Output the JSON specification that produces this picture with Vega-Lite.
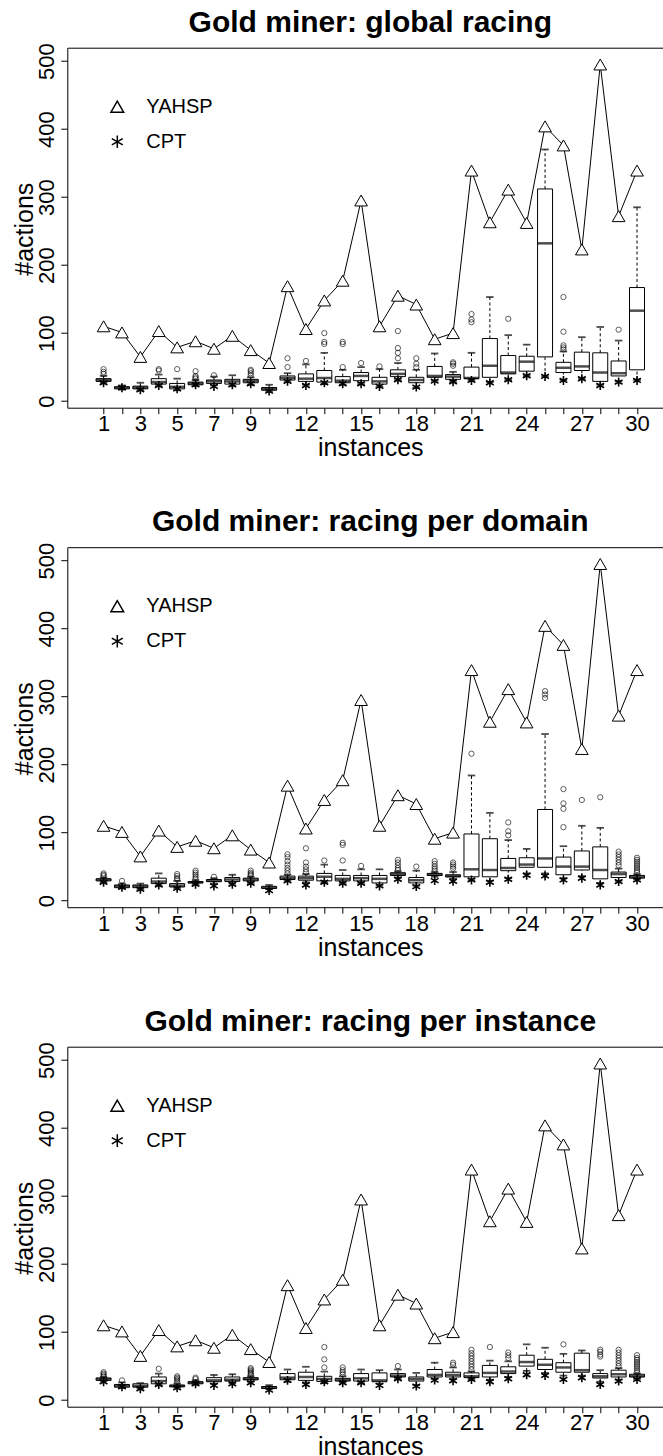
{
  "$schema": "https://vega.github.io/schema/vega-lite/v6.json",
  "autosize": {"type": "none"},
  "padding": {"left": 67.3, "top": 47.7, "right": 595.7, "bottom": 1408.3},
  "background": "white",
  "spacing": 139.5,
  "bounds": "flush",
  "config": {
    "font": "Liberation Sans",
    "view": {"stroke": "black", "strokeWidth": 1},
    "axis": {"labelFont": "Liberation Sans", "labelFontSize": 22, "labelColor": "black", "tickColor": "black", "tickWidth": 1, "titleFont": "Liberation Sans", "titleFontSize": 25, "titleFontWeight": "normal", "titleColor": "black", "grid": false, "domain": false},
    "title": {"font": "Liberation Sans", "fontSize": 30, "fontWeight": "bold", "color": "black", "anchor": "middle", "frame": "group", "offset": 5, "baseline": "alphabetic"}
  },
  "resolve": {"scale": {"shape": "independent"}, "legend": {"shape": "independent"}},
  "datasets": {
    "yahsp": [
      {"inst":1,"v":110},{"inst":2,"v":101},{"inst":3,"v":65},{"inst":4,"v":103},{"inst":5,"v":79},{"inst":6,"v":88},{"inst":7,"v":77},{"inst":8,"v":96},{"inst":9,"v":75},{"inst":10,"v":56},
      {"inst":11,"v":169},{"inst":12,"v":106},{"inst":13,"v":148},{"inst":14,"v":177},{"inst":15,"v":295},{"inst":16,"v":110},{"inst":17,"v":155},{"inst":18,"v":142},{"inst":19,"v":91},{"inst":20,"v":100},
      {"inst":21,"v":339},{"inst":22,"v":263},{"inst":23,"v":311},{"inst":24,"v":262},{"inst":25,"v":404},{"inst":26,"v":376},{"inst":27,"v":223},{"inst":28,"v":495},{"inst":29,"v":272},{"inst":30,"v":339}
    ],
    "cpt": [
      {"inst":1,"v":27},{"inst":2,"v":19.7},{"inst":3,"v":16.7},{"inst":4,"v":23},{"inst":5,"v":18},{"inst":6,"v":24},{"inst":7,"v":21.6},{"inst":8,"v":24},{"inst":9,"v":25.5},{"inst":10,"v":14.7},
      {"inst":11,"v":29},{"inst":12,"v":23},{"inst":13,"v":27},{"inst":14,"v":25.5},{"inst":15,"v":25.5},{"inst":16,"v":21.6},{"inst":17,"v":31.4},{"inst":18,"v":20.6},{"inst":19,"v":29.4},{"inst":20,"v":28.4},
      {"inst":21,"v":30.4},{"inst":22,"v":27},{"inst":23,"v":31.4},{"inst":24,"v":37.3},{"inst":25,"v":36.3},{"inst":26,"v":30.4},{"inst":27,"v":32.9},{"inst":28,"v":23},{"inst":29,"v":28},{"inst":30,"v":30.4}
    ],
    "boxes": [
      {"panel":1,"inst":1,"lo":27,"q1":29,"med":31,"q3":33,"hi":37},
      {"panel":1,"inst":2,"lo":17,"q1":18,"med":20,"q3":21,"hi":23},
      {"panel":1,"inst":3,"lo":16,"q1":18,"med":20,"q3":22,"hi":27},
      {"panel":1,"inst":4,"lo":22,"q1":25,"med":28,"q3":33,"hi":39},
      {"panel":1,"inst":5,"lo":16,"q1":18,"med":21,"q3":26,"hi":33},
      {"panel":1,"inst":6,"lo":22,"q1":24,"med":26,"q3":28,"hi":31},
      {"panel":1,"inst":7,"lo":23,"q1":26,"med":29,"q3":31,"hi":36},
      {"panel":1,"inst":8,"lo":22,"q1":25,"med":29,"q3":32,"hi":38},
      {"panel":1,"inst":9,"lo":24,"q1":27,"med":30,"q3":32,"hi":35},
      {"panel":1,"inst":10,"lo":14,"q1":16,"med":18,"q3":20,"hi":24},
      {"panel":1,"inst":11,"lo":28,"q1":31,"med":34,"q3":37,"hi":41},
      {"panel":1,"inst":12,"lo":24,"q1":29,"med":33,"q3":40,"hi":54},
      {"panel":1,"inst":13,"lo":25,"q1":28,"med":34,"q3":45,"hi":71},
      {"panel":1,"inst":14,"lo":24,"q1":27,"med":30,"q3":36,"hi":46},
      {"panel":1,"inst":15,"lo":25,"q1":30,"med":37,"q3":42,"hi":50},
      {"panel":1,"inst":16,"lo":21,"q1":25,"med":29,"q3":35,"hi":47},
      {"panel":1,"inst":17,"lo":31,"q1":36,"med":40,"q3":46,"hi":56},
      {"panel":1,"inst":18,"lo":20,"q1":27,"med":31,"q3":35,"hi":46},
      {"panel":1,"inst":19,"lo":30,"q1":35,"med":37,"q3":51,"hi":70},
      {"panel":1,"inst":20,"lo":28,"q1":32,"med":36,"q3":39,"hi":43},
      {"panel":1,"inst":21,"lo":30,"q1":33,"med":34,"q3":50,"hi":71},
      {"panel":1,"inst":22,"lo":28,"q1":35,"med":52,"q3":92,"hi":153},
      {"panel":1,"inst":23,"lo":31,"q1":40,"med":42,"q3":67,"hi":97},
      {"panel":1,"inst":24,"lo":37,"q1":44,"med":58,"q3":66,"hi":83},
      {"panel":1,"inst":25,"lo":36,"q1":65,"med":232,"q3":312,"hi":370},
      {"panel":1,"inst":26,"lo":31,"q1":42,"med":49,"q3":57,"hi":73},
      {"panel":1,"inst":27,"lo":33,"q1":45,"med":51,"q3":72,"hi":94},
      {"panel":1,"inst":28,"lo":24,"q1":29,"med":42,"q3":71,"hi":109},
      {"panel":1,"inst":29,"lo":29,"q1":37,"med":41,"q3":59,"hi":89},
      {"panel":1,"inst":30,"lo":31,"q1":46,"med":133,"q3":167,"hi":285},
      {"panel":2,"inst":1,"lo":27,"q1":29,"med":31,"q3":32,"hi":34},
      {"panel":2,"inst":2,"lo":18,"q1":19,"med":21,"q3":23,"hi":25},
      {"panel":2,"inst":3,"lo":17,"q1":19,"med":21,"q3":23,"hi":25},
      {"panel":2,"inst":4,"lo":22,"q1":25,"med":28,"q3":33,"hi":40},
      {"panel":2,"inst":5,"lo":18,"q1":20,"med":22,"q3":25,"hi":29},
      {"panel":2,"inst":6,"lo":24,"q1":26,"med":27,"q3":28,"hi":30},
      {"panel":2,"inst":7,"lo":25,"q1":28,"med":29,"q3":31,"hi":33},
      {"panel":2,"inst":8,"lo":25,"q1":28,"med":31,"q3":34,"hi":38},
      {"panel":2,"inst":9,"lo":26,"q1":29,"med":31,"q3":33,"hi":35},
      {"panel":2,"inst":10,"lo":17,"q1":18,"med":19,"q3":21,"hi":23},
      {"panel":2,"inst":11,"lo":29,"q1":31,"med":33,"q3":36,"hi":38},
      {"panel":2,"inst":12,"lo":27,"q1":30,"med":33,"q3":36,"hi":39},
      {"panel":2,"inst":13,"lo":26,"q1":29,"med":35,"q3":40,"hi":53},
      {"panel":2,"inst":14,"lo":26,"q1":29,"med":32,"q3":37,"hi":45},
      {"panel":2,"inst":15,"lo":26,"q1":29,"med":33,"q3":37,"hi":46},
      {"panel":2,"inst":16,"lo":22,"q1":26,"med":32,"q3":37,"hi":46},
      {"panel":2,"inst":17,"lo":34,"q1":37,"med":39,"q3":41,"hi":43},
      {"panel":2,"inst":18,"lo":22,"q1":26,"med":30,"q3":34,"hi":44},
      {"panel":2,"inst":19,"lo":35,"q1":37,"med":38,"q3":40,"hi":42},
      {"panel":2,"inst":20,"lo":32,"q1":35,"med":36,"q3":38,"hi":42},
      {"panel":2,"inst":21,"lo":30,"q1":35,"med":46,"q3":98,"hi":184},
      {"panel":2,"inst":22,"lo":29,"q1":35,"med":45,"q3":91,"hi":129},
      {"panel":2,"inst":23,"lo":33,"q1":44,"med":48,"q3":62,"hi":89},
      {"panel":2,"inst":24,"lo":40,"q1":49,"med":53,"q3":63,"hi":76},
      {"panel":2,"inst":25,"lo":40,"q1":49,"med":62,"q3":134,"hi":245},
      {"panel":2,"inst":26,"lo":33,"q1":38,"med":50,"q3":64,"hi":80},
      {"panel":2,"inst":27,"lo":36,"q1":45,"med":50,"q3":73,"hi":110},
      {"panel":2,"inst":28,"lo":26,"q1":32,"med":45,"q3":79,"hi":107},
      {"panel":2,"inst":29,"lo":29,"q1":34,"med":39,"q3":42,"hi":47},
      {"panel":2,"inst":30,"lo":31,"q1":33,"med":35,"q3":37,"hi":39},
      {"panel":3,"inst":1,"lo":28,"q1":29,"med":31,"q3":32.5,"hi":34},
      {"panel":3,"inst":2,"lo":18,"q1":19,"med":21,"q3":23,"hi":26},
      {"panel":3,"inst":3,"lo":17,"q1":19,"med":21,"q3":24,"hi":25},
      {"panel":3,"inst":4,"lo":22,"q1":24,"med":28,"q3":34,"hi":39},
      {"panel":3,"inst":5,"lo":18,"q1":19.5,"med":21,"q3":22,"hi":24},
      {"panel":3,"inst":6,"lo":23,"q1":24,"med":26,"q3":27,"hi":29},
      {"panel":3,"inst":7,"lo":24,"q1":27,"med":29,"q3":33,"hi":37},
      {"panel":3,"inst":8,"lo":25,"q1":28,"med":30,"q3":34,"hi":38},
      {"panel":3,"inst":9,"lo":27,"q1":30,"med":31,"q3":33,"hi":35},
      {"panel":3,"inst":10,"lo":16,"q1":17,"med":18.5,"q3":20,"hi":22},
      {"panel":3,"inst":11,"lo":27,"q1":30,"med":33,"q3":39,"hi":45},
      {"panel":3,"inst":12,"lo":26,"q1":29,"med":34,"q3":41,"hi":49},
      {"panel":3,"inst":13,"lo":25,"q1":27.5,"med":31,"q3":35,"hi":42},
      {"panel":3,"inst":14,"lo":26,"q1":28,"med":30,"q3":32,"hi":35},
      {"panel":3,"inst":15,"lo":25,"q1":28,"med":32,"q3":39,"hi":45},
      {"panel":3,"inst":16,"lo":24,"q1":27,"med":29,"q3":40,"hi":44},
      {"panel":3,"inst":17,"lo":31,"q1":34,"med":36,"q3":39,"hi":45},
      {"panel":3,"inst":18,"lo":22,"q1":28,"med":31,"q3":34,"hi":40},
      {"panel":3,"inst":19,"lo":31,"q1":34,"med":37,"q3":45,"hi":55},
      {"panel":3,"inst":20,"lo":31,"q1":34,"med":37,"q3":41,"hi":48},
      {"panel":3,"inst":21,"lo":30,"q1":33,"med":35,"q3":40,"hi":42},
      {"panel":3,"inst":22,"lo":30,"q1":34,"med":40,"q3":51,"hi":58},
      {"panel":3,"inst":23,"lo":34,"q1":39,"med":42,"q3":49,"hi":57},
      {"panel":3,"inst":24,"lo":43,"q1":50,"med":56,"q3":66,"hi":82},
      {"panel":3,"inst":25,"lo":40,"q1":45,"med":52,"q3":60,"hi":77},
      {"panel":3,"inst":26,"lo":36,"q1":41,"med":48,"q3":55,"hi":68},
      {"panel":3,"inst":27,"lo":36,"q1":41,"med":44,"q3":69,"hi":73},
      {"panel":3,"inst":28,"lo":27,"q1":32.5,"med":35,"q3":39,"hi":44},
      {"panel":3,"inst":29,"lo":30,"q1":34,"med":38,"q3":44,"hi":47},
      {"panel":3,"inst":30,"lo":31,"q1":34,"med":35.5,"q3":38,"hi":39}
    ],
    "outliers": [
      {"panel":1,"inst":1,"v":40},{"panel":1,"inst":1,"v":43},{"panel":1,"inst":1,"v":47},
      {"panel":1,"inst":4,"v":45},{"panel":1,"inst":4,"v":47},
      {"panel":1,"inst":5,"v":47},
      {"panel":1,"inst":6,"v":33},{"panel":1,"inst":6,"v":35},{"panel":1,"inst":6,"v":37},{"panel":1,"inst":6,"v":44},
      {"panel":1,"inst":7,"v":38},
      {"panel":1,"inst":9,"v":38},{"panel":1,"inst":9,"v":41},{"panel":1,"inst":9,"v":44},{"panel":1,"inst":9,"v":46},
      {"panel":1,"inst":11,"v":50},{"panel":1,"inst":11,"v":63},
      {"panel":1,"inst":12,"v":59},
      {"panel":1,"inst":13,"v":84},{"panel":1,"inst":13,"v":87},{"panel":1,"inst":13,"v":100},
      {"panel":1,"inst":14,"v":50},{"panel":1,"inst":14,"v":84},{"panel":1,"inst":14,"v":87},
      {"panel":1,"inst":15,"v":56},
      {"panel":1,"inst":16,"v":51},
      {"panel":1,"inst":17,"v":63},{"panel":1,"inst":17,"v":71},{"panel":1,"inst":17,"v":78},{"panel":1,"inst":17,"v":103},
      {"panel":1,"inst":18,"v":50},{"panel":1,"inst":18,"v":55},{"panel":1,"inst":18,"v":63},
      {"panel":1,"inst":20,"v":52},{"panel":1,"inst":20,"v":55},{"panel":1,"inst":20,"v":57},
      {"panel":1,"inst":21,"v":116},{"panel":1,"inst":21,"v":120},{"panel":1,"inst":21,"v":128},
      {"panel":1,"inst":23,"v":121},
      {"panel":1,"inst":26,"v":76},{"panel":1,"inst":26,"v":79},{"panel":1,"inst":26,"v":82},{"panel":1,"inst":26,"v":102},{"panel":1,"inst":26,"v":153},
      {"panel":1,"inst":29,"v":105},
      {"panel":2,"inst":1,"v":36},{"panel":2,"inst":1,"v":38},{"panel":2,"inst":1,"v":40},
      {"panel":2,"inst":2,"v":29},
      {"panel":2,"inst":5,"v":31},{"panel":2,"inst":5,"v":33},{"panel":2,"inst":5,"v":36},{"panel":2,"inst":5,"v":39},
      {"panel":2,"inst":6,"v":32},{"panel":2,"inst":6,"v":35},{"panel":2,"inst":6,"v":38},{"panel":2,"inst":6,"v":41},{"panel":2,"inst":6,"v":44},
      {"panel":2,"inst":7,"v":35},
      {"panel":2,"inst":9,"v":37},{"panel":2,"inst":9,"v":39},{"panel":2,"inst":9,"v":41},{"panel":2,"inst":9,"v":44},
      {"panel":2,"inst":11,"v":40},{"panel":2,"inst":11,"v":44},{"panel":2,"inst":11,"v":48},{"panel":2,"inst":11,"v":53},{"panel":2,"inst":11,"v":58},{"panel":2,"inst":11,"v":64},{"panel":2,"inst":11,"v":68},
      {"panel":2,"inst":12,"v":42},{"panel":2,"inst":12,"v":46},{"panel":2,"inst":12,"v":50},{"panel":2,"inst":12,"v":56},{"panel":2,"inst":12,"v":77},
      {"panel":2,"inst":13,"v":59},
      {"panel":2,"inst":14,"v":59},{"panel":2,"inst":14,"v":82},{"panel":2,"inst":14,"v":85},
      {"panel":2,"inst":15,"v":51},
      {"panel":2,"inst":17,"v":45},{"panel":2,"inst":17,"v":48},{"panel":2,"inst":17,"v":52},{"panel":2,"inst":17,"v":56},{"panel":2,"inst":17,"v":60},
      {"panel":2,"inst":18,"v":50},
      {"panel":2,"inst":19,"v":44},{"panel":2,"inst":19,"v":47},{"panel":2,"inst":19,"v":50},{"panel":2,"inst":19,"v":54},{"panel":2,"inst":19,"v":58},
      {"panel":2,"inst":20,"v":47},{"panel":2,"inst":20,"v":50},{"panel":2,"inst":20,"v":53},{"panel":2,"inst":20,"v":56},
      {"panel":2,"inst":21,"v":216},
      {"panel":2,"inst":23,"v":96},{"panel":2,"inst":23,"v":102},{"panel":2,"inst":23,"v":115},
      {"panel":2,"inst":25,"v":298},{"panel":2,"inst":25,"v":303},{"panel":2,"inst":25,"v":308},
      {"panel":2,"inst":26,"v":108},{"panel":2,"inst":26,"v":135},{"panel":2,"inst":26,"v":143},{"panel":2,"inst":26,"v":164},
      {"panel":2,"inst":27,"v":148},
      {"panel":2,"inst":28,"v":152},
      {"panel":2,"inst":29,"v":52},{"panel":2,"inst":29,"v":56},{"panel":2,"inst":29,"v":60},{"panel":2,"inst":29,"v":64},{"panel":2,"inst":29,"v":68},{"panel":2,"inst":29,"v":72},
      {"panel":2,"inst":30,"v":42},{"panel":2,"inst":30,"v":45},{"panel":2,"inst":30,"v":48},{"panel":2,"inst":30,"v":51},{"panel":2,"inst":30,"v":54},{"panel":2,"inst":30,"v":57},{"panel":2,"inst":30,"v":60},{"panel":2,"inst":30,"v":63},
      {"panel":3,"inst":1,"v":35},{"panel":3,"inst":1,"v":37},{"panel":3,"inst":1,"v":39},{"panel":3,"inst":1,"v":41},
      {"panel":3,"inst":2,"v":29},
      {"panel":3,"inst":4,"v":46},
      {"panel":3,"inst":5,"v":26},{"panel":3,"inst":5,"v":29},{"panel":3,"inst":5,"v":31},{"panel":3,"inst":5,"v":33},{"panel":3,"inst":5,"v":35},
      {"panel":3,"inst":6,"v":31},{"panel":3,"inst":6,"v":33},
      {"panel":3,"inst":9,"v":37},{"panel":3,"inst":9,"v":39},{"panel":3,"inst":9,"v":41},{"panel":3,"inst":9,"v":43},{"panel":3,"inst":9,"v":45},{"panel":3,"inst":9,"v":47},
      {"panel":3,"inst":13,"v":48},{"panel":3,"inst":13,"v":60},{"panel":3,"inst":13,"v":78},
      {"panel":3,"inst":14,"v":38},{"panel":3,"inst":14,"v":41},{"panel":3,"inst":14,"v":44},{"panel":3,"inst":14,"v":48},
      {"panel":3,"inst":17,"v":50},
      {"panel":3,"inst":20,"v":52},{"panel":3,"inst":20,"v":55},
      {"panel":3,"inst":21,"v":45},{"panel":3,"inst":21,"v":49},{"panel":3,"inst":21,"v":53},{"panel":3,"inst":21,"v":57},{"panel":3,"inst":21,"v":61},{"panel":3,"inst":21,"v":65},{"panel":3,"inst":21,"v":69},{"panel":3,"inst":21,"v":74},
      {"panel":3,"inst":22,"v":78},
      {"panel":3,"inst":23,"v":62},{"panel":3,"inst":23,"v":66},{"panel":3,"inst":23,"v":70},
      {"panel":3,"inst":26,"v":82},
      {"panel":3,"inst":28,"v":64},{"panel":3,"inst":28,"v":67},{"panel":3,"inst":28,"v":71},{"panel":3,"inst":28,"v":74},
      {"panel":3,"inst":29,"v":50},{"panel":3,"inst":29,"v":54},{"panel":3,"inst":29,"v":58},{"panel":3,"inst":29,"v":62},{"panel":3,"inst":29,"v":66},{"panel":3,"inst":29,"v":70},{"panel":3,"inst":29,"v":74},
      {"panel":3,"inst":30,"v":41},{"panel":3,"inst":30,"v":44},{"panel":3,"inst":30,"v":47},{"panel":3,"inst":30,"v":50},{"panel":3,"inst":30,"v":53},{"panel":3,"inst":30,"v":56},{"panel":3,"inst":30,"v":59},{"panel":3,"inst":30,"v":62},{"panel":3,"inst":30,"v":66}
    ]
  },
  "vconcat": [
    {
      "title": {"text": "Gold miner: global racing"},
      "width": 606, "height": 360,
      "encoding": {"x": {"field": "inst", "type": "quantitative", "scale": {"domain": [-0.7, 31.7], "nice": false, "zero": false}, "axis": {"values": [1,2,3,4,5,6,7,8,9,10,11,12,13,14,15,16,17,18,19,20,21,22,23,24,25,26,27,28,29,30], "labelExpr": "indexof([1,3,5,7,9,12,15,18,21,24,27,30], datum.value) >= 0 ? datum.label : ''", "labelFlush": false, "labelOverlap": false, "labelPadding": 0, "tickSize": 6, "title": "instances", "titleX": 303, "titleY": 48, "titleAlign": "center", "titleBaseline": "alphabetic"}}},
      "layer": [
        {"data": {"name": "boxes"}, "transform": [{"filter": "datum.panel == 1"}], "mark": {"type": "rule", "strokeDash": [3, 2.5], "color": "black", "strokeWidth": 1}, "encoding": {"y": {"field": "q3", "type": "quantitative", "scale": {"domain": [-9.7, 519.7], "nice": false, "zero": false}, "title": "#actions", "axis": {"values": [0,100,200,300,400,500], "labelAngle": 270, "labelAlign": "center", "labelBaseline": "alphabetic", "labelPadding": 7.5, "tickSize": 6.5, "titleX": -35, "titleY": 181, "titleAngle": 270, "titleAlign": "center", "titleBaseline": "alphabetic"}}, "y2": {"field": "hi"}}},
        {"data": {"name": "boxes"}, "transform": [{"filter": "datum.panel == 1"}], "mark": {"type": "rule", "strokeDash": [3, 2.5], "color": "black", "strokeWidth": 1}, "encoding": {"y": {"field": "lo", "type": "quantitative", "title": "#actions"}, "y2": {"field": "q1"}}},
        {"data": {"name": "boxes"}, "transform": [{"filter": "datum.panel == 1"}], "mark": {"type": "tick", "orient": "horizontal", "size": 7.5, "thickness": 1.8, "color": "black"}, "encoding": {"y": {"field": "hi", "type": "quantitative", "title": "#actions"}}},
        {"data": {"name": "boxes"}, "transform": [{"filter": "datum.panel == 1"}], "mark": {"type": "tick", "orient": "horizontal", "size": 7.5, "thickness": 1.8, "color": "black"}, "encoding": {"y": {"field": "lo", "type": "quantitative", "title": "#actions"}}},
        {"data": {"name": "boxes"}, "transform": [{"filter": "datum.panel == 1"}], "mark": {"type": "bar", "size": 15, "fill": "white", "stroke": "black", "strokeWidth": 1}, "encoding": {"y": {"field": "q1", "type": "quantitative", "title": "#actions"}, "y2": {"field": "q3"}}},
        {"data": {"name": "boxes"}, "transform": [{"filter": "datum.panel == 1"}], "mark": {"type": "tick", "orient": "horizontal", "size": 15, "thickness": 2.5, "color": "black"}, "encoding": {"y": {"field": "med", "type": "quantitative", "title": "#actions"}}},
        {"data": {"name": "outliers"}, "transform": [{"filter": "datum.panel == 1"}], "mark": {"type": "point", "shape": "circle", "filled": false, "size": 28, "stroke": "black", "strokeWidth": 0.9}, "encoding": {"y": {"field": "v", "type": "quantitative", "title": "#actions"}}},
        {"data": {"name": "yahsp"}, "mark": {"type": "line", "color": "black", "strokeWidth": 1}, "encoding": {"y": {"field": "v", "type": "quantitative", "title": "#actions"}}},
        {"data": {"name": "yahsp"}, "mark": {"type": "point", "filled": true, "fill": "white", "stroke": "black", "strokeWidth": 1, "size": 160, "opacity": 1}, "encoding": {"y": {"field": "v", "type": "quantitative", "title": "#actions"}, "shape": {"datum": "YAHSP", "type": "nominal", "scale": {"domain": ["YAHSP", "CPT"], "range": ["triangle-up", "M0,-1L0,1M-0.866,-0.5L0.866,0.5M-0.866,0.5L0.866,-0.5"]}, "legend": {"title": null, "orient": "none", "legendX": 40, "legendY": 49, "direction": "vertical", "labelFontSize": 20, "labelFont": "Liberation Sans", "labelColor": "black", "symbolSize": 160, "rowPadding": 15, "labelOffset": 19, "padding": 0, "encode": {"symbols": {"update": {"stroke": {"value": "black"}, "fill": {"value": "white"}, "strokeWidth": {"value": 1}, "opacity": {"value": 1}}}}}}}},
        {"data": {"name": "cpt"}, "mark": {"type": "point", "filled": false, "stroke": "black", "strokeWidth": 1.6, "size": 80, "opacity": 1}, "encoding": {"y": {"field": "v", "type": "quantitative", "title": "#actions"}, "shape": {"datum": "CPT", "type": "nominal"}}}
      ]
    },
    {
      "title": {"text": "Gold miner: racing per domain"},
      "width": 606, "height": 360,
      "encoding": {"x": {"field": "inst", "type": "quantitative", "scale": {"domain": [-0.7, 31.7], "nice": false, "zero": false}, "axis": {"values": [1,2,3,4,5,6,7,8,9,10,11,12,13,14,15,16,17,18,19,20,21,22,23,24,25,26,27,28,29,30], "labelExpr": "indexof([1,3,5,7,9,12,15,18,21,24,27,30], datum.value) >= 0 ? datum.label : ''", "labelFlush": false, "labelOverlap": false, "labelPadding": 0, "tickSize": 6, "title": "instances", "titleX": 303, "titleY": 48, "titleAlign": "center", "titleBaseline": "alphabetic"}}},
      "layer": [
        {"data": {"name": "boxes"}, "transform": [{"filter": "datum.panel == 2"}], "mark": {"type": "rule", "strokeDash": [3, 2.5], "color": "black", "strokeWidth": 1}, "encoding": {"y": {"field": "q3", "type": "quantitative", "scale": {"domain": [-9.7, 519.7], "nice": false, "zero": false}, "title": "#actions", "axis": {"values": [0,100,200,300,400,500], "labelAngle": 270, "labelAlign": "center", "labelBaseline": "alphabetic", "labelPadding": 7.5, "tickSize": 6.5, "titleX": -35, "titleY": 181, "titleAngle": 270, "titleAlign": "center", "titleBaseline": "alphabetic"}}, "y2": {"field": "hi"}}},
        {"data": {"name": "boxes"}, "transform": [{"filter": "datum.panel == 2"}], "mark": {"type": "rule", "strokeDash": [3, 2.5], "color": "black", "strokeWidth": 1}, "encoding": {"y": {"field": "lo", "type": "quantitative", "title": "#actions"}, "y2": {"field": "q1"}}},
        {"data": {"name": "boxes"}, "transform": [{"filter": "datum.panel == 2"}], "mark": {"type": "tick", "orient": "horizontal", "size": 7.5, "thickness": 1.8, "color": "black"}, "encoding": {"y": {"field": "hi", "type": "quantitative", "title": "#actions"}}},
        {"data": {"name": "boxes"}, "transform": [{"filter": "datum.panel == 2"}], "mark": {"type": "tick", "orient": "horizontal", "size": 7.5, "thickness": 1.8, "color": "black"}, "encoding": {"y": {"field": "lo", "type": "quantitative", "title": "#actions"}}},
        {"data": {"name": "boxes"}, "transform": [{"filter": "datum.panel == 2"}], "mark": {"type": "bar", "size": 15, "fill": "white", "stroke": "black", "strokeWidth": 1}, "encoding": {"y": {"field": "q1", "type": "quantitative", "title": "#actions"}, "y2": {"field": "q3"}}},
        {"data": {"name": "boxes"}, "transform": [{"filter": "datum.panel == 2"}], "mark": {"type": "tick", "orient": "horizontal", "size": 15, "thickness": 2.5, "color": "black"}, "encoding": {"y": {"field": "med", "type": "quantitative", "title": "#actions"}}},
        {"data": {"name": "outliers"}, "transform": [{"filter": "datum.panel == 2"}], "mark": {"type": "point", "shape": "circle", "filled": false, "size": 28, "stroke": "black", "strokeWidth": 0.9}, "encoding": {"y": {"field": "v", "type": "quantitative", "title": "#actions"}}},
        {"data": {"name": "yahsp"}, "mark": {"type": "line", "color": "black", "strokeWidth": 1}, "encoding": {"y": {"field": "v", "type": "quantitative", "title": "#actions"}}},
        {"data": {"name": "yahsp"}, "mark": {"type": "point", "filled": true, "fill": "white", "stroke": "black", "strokeWidth": 1, "size": 160, "opacity": 1}, "encoding": {"y": {"field": "v", "type": "quantitative", "title": "#actions"}, "shape": {"datum": "YAHSP", "type": "nominal", "scale": {"domain": ["YAHSP", "CPT"], "range": ["triangle-up", "M0,-1L0,1M-0.866,-0.5L0.866,0.5M-0.866,0.5L0.866,-0.5"]}, "legend": {"title": null, "orient": "none", "legendX": 40, "legendY": 49, "direction": "vertical", "labelFontSize": 20, "labelFont": "Liberation Sans", "labelColor": "black", "symbolSize": 160, "rowPadding": 15, "labelOffset": 19, "padding": 0, "encode": {"symbols": {"update": {"stroke": {"value": "black"}, "fill": {"value": "white"}, "strokeWidth": {"value": 1}, "opacity": {"value": 1}}}}}}}},
        {"data": {"name": "cpt"}, "mark": {"type": "point", "filled": false, "stroke": "black", "strokeWidth": 1.6, "size": 80, "opacity": 1}, "encoding": {"y": {"field": "v", "type": "quantitative", "title": "#actions"}, "shape": {"datum": "CPT", "type": "nominal"}}}
      ]
    },
    {
      "title": {"text": "Gold miner: racing per instance"},
      "width": 606, "height": 360,
      "encoding": {"x": {"field": "inst", "type": "quantitative", "scale": {"domain": [-0.7, 31.7], "nice": false, "zero": false}, "axis": {"values": [1,2,3,4,5,6,7,8,9,10,11,12,13,14,15,16,17,18,19,20,21,22,23,24,25,26,27,28,29,30], "labelExpr": "indexof([1,3,5,7,9,12,15,18,21,24,27,30], datum.value) >= 0 ? datum.label : ''", "labelFlush": false, "labelOverlap": false, "labelPadding": 0, "tickSize": 6, "title": "instances", "titleX": 303, "titleY": 48, "titleAlign": "center", "titleBaseline": "alphabetic"}}},
      "layer": [
        {"data": {"name": "boxes"}, "transform": [{"filter": "datum.panel == 3"}], "mark": {"type": "rule", "strokeDash": [3, 2.5], "color": "black", "strokeWidth": 1}, "encoding": {"y": {"field": "q3", "type": "quantitative", "scale": {"domain": [-9.7, 519.7], "nice": false, "zero": false}, "title": "#actions", "axis": {"values": [0,100,200,300,400,500], "labelAngle": 270, "labelAlign": "center", "labelBaseline": "alphabetic", "labelPadding": 7.5, "tickSize": 6.5, "titleX": -35, "titleY": 181, "titleAngle": 270, "titleAlign": "center", "titleBaseline": "alphabetic"}}, "y2": {"field": "hi"}}},
        {"data": {"name": "boxes"}, "transform": [{"filter": "datum.panel == 3"}], "mark": {"type": "rule", "strokeDash": [3, 2.5], "color": "black", "strokeWidth": 1}, "encoding": {"y": {"field": "lo", "type": "quantitative", "title": "#actions"}, "y2": {"field": "q1"}}},
        {"data": {"name": "boxes"}, "transform": [{"filter": "datum.panel == 3"}], "mark": {"type": "tick", "orient": "horizontal", "size": 7.5, "thickness": 1.8, "color": "black"}, "encoding": {"y": {"field": "hi", "type": "quantitative", "title": "#actions"}}},
        {"data": {"name": "boxes"}, "transform": [{"filter": "datum.panel == 3"}], "mark": {"type": "tick", "orient": "horizontal", "size": 7.5, "thickness": 1.8, "color": "black"}, "encoding": {"y": {"field": "lo", "type": "quantitative", "title": "#actions"}}},
        {"data": {"name": "boxes"}, "transform": [{"filter": "datum.panel == 3"}], "mark": {"type": "bar", "size": 15, "fill": "white", "stroke": "black", "strokeWidth": 1}, "encoding": {"y": {"field": "q1", "type": "quantitative", "title": "#actions"}, "y2": {"field": "q3"}}},
        {"data": {"name": "boxes"}, "transform": [{"filter": "datum.panel == 3"}], "mark": {"type": "tick", "orient": "horizontal", "size": 15, "thickness": 2.5, "color": "black"}, "encoding": {"y": {"field": "med", "type": "quantitative", "title": "#actions"}}},
        {"data": {"name": "outliers"}, "transform": [{"filter": "datum.panel == 3"}], "mark": {"type": "point", "shape": "circle", "filled": false, "size": 28, "stroke": "black", "strokeWidth": 0.9}, "encoding": {"y": {"field": "v", "type": "quantitative", "title": "#actions"}}},
        {"data": {"name": "yahsp"}, "mark": {"type": "line", "color": "black", "strokeWidth": 1}, "encoding": {"y": {"field": "v", "type": "quantitative", "title": "#actions"}}},
        {"data": {"name": "yahsp"}, "mark": {"type": "point", "filled": true, "fill": "white", "stroke": "black", "strokeWidth": 1, "size": 160, "opacity": 1}, "encoding": {"y": {"field": "v", "type": "quantitative", "title": "#actions"}, "shape": {"datum": "YAHSP", "type": "nominal", "scale": {"domain": ["YAHSP", "CPT"], "range": ["triangle-up", "M0,-1L0,1M-0.866,-0.5L0.866,0.5M-0.866,0.5L0.866,-0.5"]}, "legend": {"title": null, "orient": "none", "legendX": 40, "legendY": 49, "direction": "vertical", "labelFontSize": 20, "labelFont": "Liberation Sans", "labelColor": "black", "symbolSize": 160, "rowPadding": 15, "labelOffset": 19, "padding": 0, "encode": {"symbols": {"update": {"stroke": {"value": "black"}, "fill": {"value": "white"}, "strokeWidth": {"value": 1}, "opacity": {"value": 1}}}}}}}},
        {"data": {"name": "cpt"}, "mark": {"type": "point", "filled": false, "stroke": "black", "strokeWidth": 1.6, "size": 80, "opacity": 1}, "encoding": {"y": {"field": "v", "type": "quantitative", "title": "#actions"}, "shape": {"datum": "CPT", "type": "nominal"}}}
      ]
    }
  ]
}
